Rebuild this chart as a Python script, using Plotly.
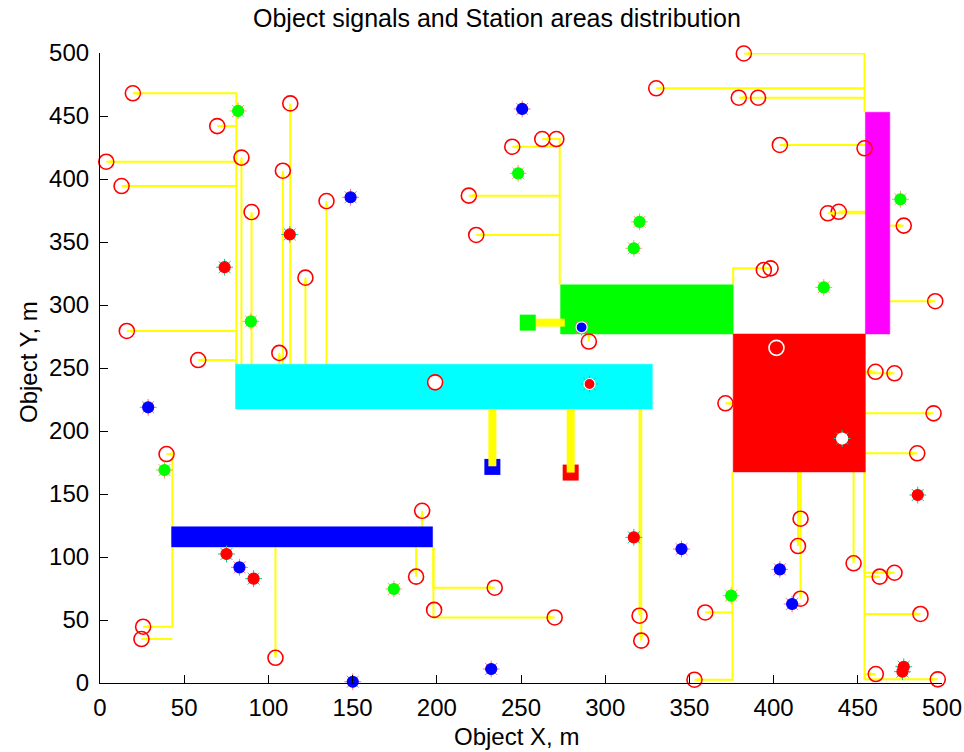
import math
import plotly.graph_objects as go

# ---- station areas (rectangles in field coordinates, metres) ----
station_names = ["cyan", "blue", "green", "red", "magenta"]
station_x0 = [80.5, 42.5, 273.5, 376.0, 454.5]
station_x1 = [328.0, 197.5, 376.0, 454.5, 469.0]
station_y0 = [217.5, 108.0, 277.0, 167.5, 277.0]
station_y1 = [253.0, 124.0, 316.0, 277.0, 453.0]

# ---- unassigned object signals (open circles) ----
circle_x = [19.5, 69.6, 3.7, 12.8, 15.9, 58.3, 84.0, 113.0, 108.6, 90.0,
            134.5, 122.0, 106.5, 39.5, 25.6, 24.6, 104.2, 191.3, 187.7, 234.4,
            198.4, 270.0, 199.0, 290.3, 320.4, 321.4, 353.0, 359.4, 262.6, 271.0,
            244.8, 219.0, 223.4, 382.3, 330.3, 379.3, 390.8, 403.7, 454.0, 432.2,
            438.7, 477.3, 496.0, 394.2, 398.2, 460.5, 471.8, 371.4, 495.0, 485.3,
            401.7, 416.0, 414.5, 416.0, 447.5, 463.0, 471.8, 487.2, 460.7, 497.5]
circle_y = [468.0, 442.0, 413.7, 394.4, 279.4, 256.3, 417.0, 460.0, 406.6, 373.8,
            382.5, 321.7, 262.0, 181.7, 44.7, 34.9, 20.0, 136.7, 84.4, 75.6,
            58.0, 52.0, 238.6, 271.0, 53.4, 33.6, 2.6, 56.0, 431.7, 431.7,
            425.6, 386.8, 355.6, 499.6, 472.0, 464.5, 464.5, 427.0, 424.4, 372.8,
            374.0, 363.0, 303.0, 327.8, 329.1, 247.0, 245.8, 222.0, 214.0, 182.3,
            266.0, 130.4, 108.7, 66.9, 95.0, 84.4, 87.5, 54.8, 7.1, 2.9]

# ---- detected object signals by class ----
red_dot_x = [112.7, 74.0, 75.1, 91.2, 317.0, 290.7, 485.6, 477.3, 476.5, 440.7]
red_dot_y = [356.0, 330.0, 102.4, 82.8, 115.6, 237.3, 149.2, 12.9, 9.0, 194.0]
green_dot_x = [82.0, 89.6, 38.3, 174.5, 248.3, 320.4, 317.0, 429.8, 475.3, 374.8]
green_dot_y = [454.0, 287.0, 169.0, 74.6, 404.5, 366.0, 345.0, 314.0, 383.9, 69.3]
blue_dot_x = [148.8, 28.6, 82.8, 150.1, 232.3, 250.7, 286.0, 345.3, 403.7, 411.0]
blue_dot_y = [385.5, 218.8, 91.8, 1.0, 11.1, 455.6, 282.3, 106.3, 90.2, 62.7]

# ---- signal sources and their links to a station ----
source_names = ["green", "blue", "red"]
source_x = [254.0, 233.0, 279.5]
source_y = [286.0, 171.5, 167.0]
source_routes = [
    [(259.0, 286.0), (276.0, 286.0)],
    [(233.0, 217.5), (233.0, 172.0)],
    [(279.5, 217.5), (279.5, 167.0)],
]

# ---- cable routes: circle index -> waypoints from the object to its station ----
link_routes = [
    (0, [(81, 468.0), (81, 253)]),
    (1, [(81, 442.0)]),
    (2, [(81, 413.7)]),
    (3, [(81, 394.4)]),
    (4, [(81, 279.4), (81, 253)]),
    (5, [(81, 256.3)]),
    (6, [(84.0, 253)]),
    (7, [(113.0, 253)]),
    (8, [(108.6, 253)]),
    (9, [(90.0, 253)]),
    (10, [(134.5, 253)]),
    (11, [(122.0, 253)]),
    (12, [(106.5, 253)]),
    (13, [(43, 181.7), (43, 124)]),
    (14, [(43, 44.7), (43, 108)]),
    (15, [(43, 34.9)]),
    (16, [(104.2, 108)]),
    (17, [(191.3, 124)]),
    (18, [(187.7, 108)]),
    (19, [(198, 75.6), (198, 108)]),
    (21, [(198, 52.0), (198, 108)]),
    (23, [(290.3, 277)]),
    (24, [(320.4, 217.5)]),
    (25, [(321.4, 217.5)]),
    (26, [(375.6, 2.6), (375.6, 167.5)]),
    (27, [(375.6, 56.0)]),
    (28, [(273, 431.7), (273, 316)]),
    (30, [(273, 425.6)]),
    (31, [(273, 386.8)]),
    (32, [(273, 355.6)]),
    (33, [(454, 499.6), (454, 453)]),
    (34, [(454, 472.0)]),
    (35, [(454, 464.5)]),
    (37, [(454.5, 427.0)]),
    (39, [(454.5, 372.8)]),
    (40, [(454.5, 374.0)]),
    (41, [(469, 363.0)]),
    (42, [(469, 303.0)]),
    (44, [(376, 329.1), (376, 316)]),
    (45, [(454.5, 247.0)]),
    (46, [(454.5, 245.8)]),
    (47, [(376, 222.0)]),
    (48, [(454.5, 214.0)]),
    (49, [(454.5, 182.3)]),
    (51, [(416.0, 167.5)]),
    (52, [(414.5, 167.5)]),
    (53, [(416.0, 167.5)]),
    (54, [(447.5, 167.5)]),
    (55, [(454, 84.4)]),
    (56, [(454, 87.5), (454, 167.5)]),
    (57, [(454, 54.8)]),
    (58, [(454, 7.1)]),
    (59, [(454, 2.9), (454, 167.5)]),
]

# ---- styling ----
COLORS = {"cyan": "#00FFFF", "blue": "#0000FF", "green": "#00FF00",
          "red": "#FF0000", "magenta": "#FF00FF"}
YELLOW = "#FFFF00"
FONT = "Liberation Sans"
CLEAR = "rgba(0,0,0,0)"

# plot-area pixel scale, used to orient arrowheads
PX_X = 842 / 500.0
PX_Y = 630 / 500.0


def station_at(x, y):
    for i, name in enumerate(station_names):
        if station_x0[i] <= x <= station_x1[i] and station_y0[i] <= y <= station_y1[i]:
            return name
    return None


def heading(p_from, p_to):
    dx = (p_to[0] - p_from[0]) * PX_X
    dy = (p_to[1] - p_from[1]) * PX_Y
    return math.degrees(math.atan2(dx, dy))


fig = go.Figure()

# thin cable links
lx, ly, ax, ay, aang = [], [], [], [], []
for idx, way in link_routes:
    obj = (circle_x[idx], circle_y[idx])
    pts = [obj] + way
    for p in pts:
        lx.append(p[0])
        ly.append(p[1])
    lx.append(None)
    ly.append(None)
    ax.append(obj[0])
    ay.append(obj[1])
    aang.append(heading(way[0], obj))

fig.add_trace(go.Scatter(x=lx, y=ly, mode="lines",
                         line=dict(color=YELLOW, width=2), hoverinfo="skip"))

# station areas
for i, name in enumerate(station_names):
    x0, x1, y0, y1 = station_x0[i], station_x1[i], station_y0[i], station_y1[i]
    fig.add_trace(go.Scatter(x=[x0, x1, x1, x0, x0], y=[y0, y0, y1, y1, y0],
                             mode="lines", fill="toself", fillcolor=COLORS[name],
                             line=dict(color=COLORS[name], width=0.5),
                             hoverinfo="skip"))

# signal sources with their thick links
fig.add_trace(go.Scatter(x=source_x, y=source_y, mode="markers",
                         marker=dict(symbol="square", size=16,
                                     color=[COLORS[n] for n in source_names],
                                     line=dict(width=0)),
                         hoverinfo="skip"))
for route in source_routes:
    fig.add_trace(go.Scatter(x=[p[0] for p in route], y=[p[1] for p in route],
                             mode="lines", line=dict(color=YELLOW, width=8),
                             hoverinfo="skip"))
fig.add_trace(go.Scatter(x=[r[-1][0] for r in source_routes],
                         y=[r[-1][1] for r in source_routes], mode="markers",
                         marker=dict(symbol="arrow", size=12, color=YELLOW,
                                     angle=[heading(r[-2], r[-1]) for r in source_routes],
                                     line=dict(width=0)),
                         hoverinfo="skip"))

# open circles
c_fill, c_line = [], []
for x, y in zip(circle_x, circle_y):
    s = station_at(x, y)
    if s is None:
        c_fill.append(CLEAR)
        c_line.append(COLORS["red"])
    elif s == "red":
        c_fill.append(CLEAR)
        c_line.append("#FFFFFF")
    else:
        c_fill.append("#FFFFFF")
        c_line.append(COLORS["red"])
fig.add_trace(go.Scatter(x=circle_x, y=circle_y, mode="markers", cliponaxis=False,
                         marker=dict(symbol="circle", size=15, color=c_fill,
                                     line=dict(color=c_line, width=1.6)),
                         hoverinfo="skip"))

# filled dots
for cname, xs, ys in (("red", red_dot_x, red_dot_y),
                      ("green", green_dot_x, green_dot_y),
                      ("blue", blue_dot_x, blue_dot_y)):
    fills, edges = [], []
    for x, y in zip(xs, ys):
        s = station_at(x, y)
        if s is None:
            fills.append(COLORS[cname])
            edges.append(COLORS[cname])
        elif s == cname:
            fills.append("#FFFFFF")
            edges.append("#FFFFFF")
        else:
            fills.append(COLORS[cname])
            edges.append("#FFFFFF")
    fig.add_trace(go.Scatter(x=xs, y=ys, mode="markers", cliponaxis=False,
                             marker=dict(symbol="asterisk-open", size=14,
                                         line=dict(color=edges, width=1)),
                             hoverinfo="skip"))
    fig.add_trace(go.Scatter(x=xs, y=ys, mode="markers", cliponaxis=False,
                             marker=dict(symbol="circle", size=11, color=fills,
                                         line=dict(color=edges, width=1.2)),
                             hoverinfo="skip"))

# arrowheads where cables reach the objects
fig.add_trace(go.Scatter(x=ax, y=ay, mode="markers", cliponaxis=False,
                         marker=dict(symbol="arrow", size=7, color=YELLOW, angle=aang,
                                     line=dict(width=0)),
                         hoverinfo="skip"))

axis_common = dict(range=[0, 500], tick0=0, dtick=50, ticks="inside", ticklen=8,
                   tickwidth=1, tickcolor="black", showline=True, linecolor="black",
                   linewidth=1.2, showgrid=False, zeroline=False, mirror=False,
                   automargin=False,
                   tickfont=dict(family=FONT, size=24, color="black"))

fig.update_layout(
    width=964, height=752,
    margin=dict(l=100, r=22, t=53, b=69),
    paper_bgcolor="white", plot_bgcolor="white",
    showlegend=False,
    xaxis=dict(**axis_common, ticklabelstandoff=3),
    yaxis=dict(**axis_common, ticklabelstandoff=5),
    annotations=[
        dict(text="Object signals and Station areas distribution", xref="paper",
             yref="paper", x=0.4715, y=1.0556, showarrow=False, xanchor="center",
             yanchor="middle", font=dict(family=FONT, size=25, color="black")),
        dict(text="Object X, m", xref="paper", yref="paper", x=0.495, y=-0.0857,
             showarrow=False, xanchor="center", yanchor="middle",
             font=dict(family=FONT, size=24, color="black")),
        dict(text="Object Y, m", xref="paper", yref="paper", x=-0.0855, y=0.5095,
             showarrow=False, xanchor="center", yanchor="middle", textangle=-90,
             font=dict(family=FONT, size=24, color="black")),
    ],
)

fig.write_html("out.html")
